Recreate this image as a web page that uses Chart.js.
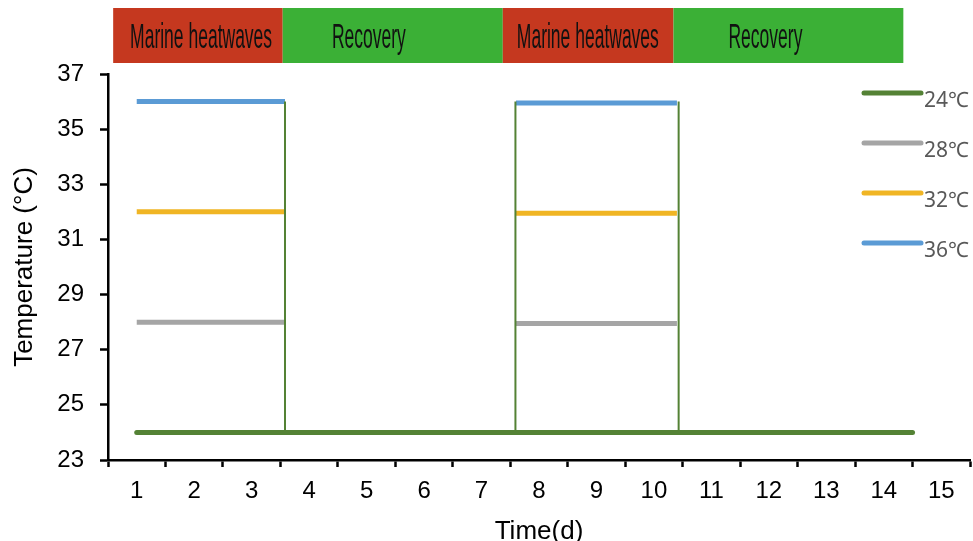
<!DOCTYPE html>
<html>
<head>
<meta charset="utf-8">
<script src="https://cdn.jsdelivr.net/npm/chart.js@4/dist/chart.umd.min.js"></script>
<style>
  html, body { margin: 0; padding: 0; background: #ffffff; }
  #wrap { width: 973px; height: 541px; position: relative; }
</style>
</head>
<body>
<div id="wrap"><canvas id="chart"></canvas></div>
<script>
// Day labels along the time axis
const dayTicks = [1, 2, 3, 4, 5, 6, 7, 8, 9, 10, 11, 12, 13, 14, 15];

// Treatment names and colours
const seriesNames = ['24℃', '28℃', '32℃', '36℃'];
const seriesColors = ['#548235', '#A5A5A5', '#F0B524', '#5B9BD5'];

// Heatwave periods (days) and the temperature held in each
const heatwave1Days = [1, 3.58];
const heatwave2Days = [7.6, 10.4];
const heatwave1Temps = [24, 28, 32, 36];
const heatwave2Temps = [24, 27.95, 31.95, 35.95];

// Control line runs the whole experiment
const controlDays = [1, 14.5];
const controlTemp = 24;

// Ramps between control and peak temperature
const rampDays = [3.58, 7.59, 10.43];
const rampLow = 24;
const rampHigh = 36;

// Phase banner above the plot: boundaries, names, text centres (days)
const phaseEdges = [0.59, 3.54, 7.37, 10.34, 14.34];
const phaseNames = ['Marine heatwaves', 'Recovery', 'Marine heatwaves', 'Recovery'];
const phaseTextAt = [2.12, 5.04, 8.85, 11.94];
const phaseColors = ['#C5381F', '#3BB036', '#C5381F', '#3BB036'];

// Build line datasets
function segmentPoints(i) {
  return [
    { x: heatwave1Days[0], y: heatwave1Temps[i] },
    { x: heatwave1Days[1], y: heatwave1Temps[i] },
    { x: (heatwave1Days[1] + heatwave2Days[0]) / 2, y: null },
    { x: heatwave2Days[0], y: heatwave2Temps[i] },
    { x: heatwave2Days[1], y: heatwave2Temps[i] }
  ];
}

const rampPoints = [];
rampDays.forEach((d, k) => {
  if (k > 0) rampPoints.push({ x: d - 0.01, y: null });
  rampPoints.push({ x: d, y: rampLow });
  rampPoints.push({ x: d, y: rampHigh });
});

const datasets = [
  {
    label: seriesNames[0],
    data: [{ x: controlDays[0], y: controlTemp }, { x: controlDays[1], y: controlTemp }],
    borderColor: seriesColors[0],
    borderWidth: 5,
    borderCapStyle: 'round'
  },
  {
    label: 'ramp',
    data: rampPoints,
    borderColor: seriesColors[0],
    borderWidth: 2,
    borderCapStyle: 'butt'
  }
];
for (let i = 1; i < seriesNames.length; i++) {
  datasets.push({
    label: seriesNames[i],
    data: segmentPoints(i),
    borderColor: seriesColors[i],
    borderWidth: 5,
    borderCapStyle: 'butt'
  });
}
datasets.forEach(ds => {
  ds.pointRadius = 0;
  ds.pointHoverRadius = 0;
  ds.tension = 0;
  ds.spanGaps = false;
  ds.fill = false;
  ds.clip = false;
});

// Phase banner drawn from x-scale positions
const phaseBanner = {
  id: 'phaseBanner',
  afterDraw(chart) {
    const ctx = chart.ctx;
    const xs = chart.scales.x;
    const top = 8, bottom = 63;
    ctx.save();
    for (let i = 0; i < phaseNames.length; i++) {
      const x0 = xs.getPixelForValue(phaseEdges[i]);
      const x1 = xs.getPixelForValue(phaseEdges[i + 1]);
      ctx.fillStyle = phaseColors[i];
      ctx.fillRect(x0, top, x1 - x0, bottom - top);
      const cx = xs.getPixelForValue(phaseTextAt[i]);
      ctx.save();
      ctx.translate(cx, 47.5);
      ctx.scale(0.5, 1);
      ctx.fillStyle = '#111111';
      ctx.font = '35px "Liberation Sans", Arial, sans-serif';
      ctx.textAlign = 'center';
      ctx.textBaseline = 'alphabetic';
      ctx.fillText(phaseNames[i], 0, 0);
      ctx.restore();
    }
    ctx.restore();
  }
};

// Legend inside the plot, upper right
const sideLegend = {
  id: 'sideLegend',
  afterDraw(chart) {
    const ctx = chart.ctx;
    const x0 = 864, x1 = 921, y0 = 93, gap = 50;
    ctx.save();
    seriesNames.forEach((name, i) => {
      const y = y0 + i * gap;
      ctx.strokeStyle = seriesColors[i];
      ctx.lineWidth = 5;
      ctx.lineCap = 'round';
      ctx.beginPath();
      ctx.moveTo(x0, y);
      ctx.lineTo(x1, y);
      ctx.stroke();
      ctx.fillStyle = '#595959';
      ctx.font = '21px "Noto Sans", "Noto Sans CJK SC", sans-serif';
      ctx.textAlign = 'left';
      ctx.textBaseline = 'alphabetic';
      ctx.fillText(name, x1 + 3, y + 14);
    });
    ctx.restore();
  }
};

const halfTicks = [];
for (let v = dayTicks[0] - 0.5; v <= dayTicks[dayTicks.length - 1] + 0.5; v += 0.5) halfTicks.push(v);

new Chart(document.getElementById('chart'), {
  type: 'line',
  data: { datasets },
  options: {
    responsive: true,
    maintainAspectRatio: false,
    animation: false,
    events: [],
    layout: { padding: { top: 74, right: 3, left: 0, bottom: 0 } },
    plugins: {
      legend: { display: false },
      tooltip: { enabled: false }
    },
    scales: {
      x: {
        type: 'linear',
        min: dayTicks[0] - 0.5,
        max: dayTicks[dayTicks.length - 1] + 0.5,
        afterBuildTicks(scale) {
          scale.ticks = halfTicks.map(v => ({ value: v }));
        },
        afterFit(scale) {
          scale.height = 81;
          scale.paddingLeft = 0;
          scale.paddingRight = 0;
        },
        ticks: {
          autoSkip: false,
          maxRotation: 0,
          padding: 10,
          color: '#000000',
          font: { family: '"Liberation Sans", Arial, sans-serif', size: 24 },
          callback: v => (dayTicks.includes(v) ? String(v) : '')
        },
        grid: {
          drawOnChartArea: false,
          drawTicks: true,
          tickLength: 7,
          tickWidth: 2.5,
          tickColor: c => (Number.isInteger(c.tick.value) ? 'rgba(0,0,0,0)' : '#000000')
        },
        border: { display: true, color: '#000000', width: 2.5 },
        title: {
          display: true,
          text: 'Time(d)',
          color: '#000000',
          font: { family: '"Liberation Sans", Arial, sans-serif', size: 26, lineHeight: 1 },
          padding: { top: 0, bottom: -4 }
        }
      },
      y: {
        min: 23,
        max: 37,
        afterFit(scale) {
          scale.width = 108;
          scale.paddingTop = 0;
          scale.paddingBottom = 0;
        },
        ticks: {
          stepSize: 2,
          padding: 16,
          color: '#000000',
          font: { family: '"Liberation Sans", Arial, sans-serif', size: 24 }
        },
        grid: {
          drawOnChartArea: false,
          drawTicks: true,
          tickLength: 8,
          tickWidth: 2.5,
          tickColor: '#000000'
        },
        border: { display: true, color: '#000000', width: 2.5 },
        title: {
          display: true,
          text: 'Temperature (°C)',
          color: '#000000',
          font: { family: '"Liberation Sans", Arial, sans-serif', size: 26, lineHeight: 1.2 },
          padding: { top: 9, bottom: 0 }
        }
      }
    }
  },
  plugins: [phaseBanner, sideLegend]
});
</script>
</body>
</html>
